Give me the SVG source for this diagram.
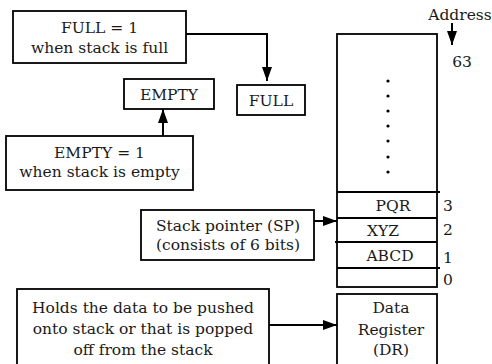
<svg xmlns="http://www.w3.org/2000/svg" width="492" height="364" viewBox="0 0 492 364">
  <defs>
    <marker id="arrow" viewBox="0 0 14 10" refX="14" refY="5" markerWidth="14" markerHeight="10" markerUnits="userSpaceOnUse" orient="auto">
      <path d="M0,0 L14,5 L0,10 Z" fill="#000"/>
    </marker>
    <style>
      .box { fill: #fff; stroke: #000; stroke-width: 1.8; }
      .line { fill: none; stroke: #000; stroke-width: 1.8; }
      .con { fill: none; stroke: #000; stroke-width: 2; marker-end: url(#arrow); }
      text { font-family: "DejaVu Serif", "Liberation Serif", serif; font-size: 15.5px; fill: #1a1a1a; }
      .c { text-anchor: middle; }
    </style>
  </defs>
  <rect width="492" height="364" fill="#fff"/>

  <!-- connectors -->
  <g id="connectors">
    <path class="con" d="M186,34 H267 V81"/>
    <path class="con" d="M163,136 V109"/>
    <path class="con" d="M452,23 V45"/>
    <path class="con" d="M314,221 H337"/>
    <path class="con" d="M269,325 H337"/>
  </g>

  <g id="full-note">
    <rect class="box" x="13" y="11" width="173" height="52"/>
    <text class="c" x="99.5" y="33">FULL = 1</text>
    <text class="c" x="99.5" y="53">when stack is full</text>
  </g>

  <g id="full-flag">
    <rect class="box" x="237" y="85" width="68" height="30"/>
    <text class="c" x="271" y="106">FULL</text>
  </g>

  <g id="empty-flag">
    <rect class="box" x="124" y="79" width="90" height="30"/>
    <text class="c" x="169" y="100">EMPTY</text>
  </g>

  <g id="empty-note">
    <rect class="box" x="6" y="136" width="187" height="54"/>
    <text class="c" x="99.5" y="158">EMPTY = 1</text>
    <text class="c" x="99.5" y="177">when stack is empty</text>
  </g>

  <g id="address">
    <text class="c" x="460" y="20">Address</text>
    <text class="c" x="462" y="67">63</text>
  </g>

  <g id="stack">
    <rect class="box" x="337" y="34" width="100" height="253"/>
    <g fill="#000">
      <circle cx="388" cy="81" r="1.6"/>
      <circle cx="388" cy="96" r="1.6"/>
      <circle cx="388" cy="111" r="1.6"/>
      <circle cx="388" cy="126" r="1.6"/>
      <circle cx="388" cy="141" r="1.6"/>
      <circle cx="388" cy="157" r="1.6"/>
      <circle cx="388" cy="172" r="1.6"/>
    </g>
    <path class="line" d="M337,192 H440 M337,218 H437 M335,242 H437 M337,268 H440"/>
    <text class="c" x="393" y="211">PQR</text>
    <text class="c" x="383" y="236">XYZ</text>
    <text class="c" x="390" y="261">ABCD</text>
    <text x="443" y="211">3</text>
    <text x="443" y="235">2</text>
    <text x="443" y="263">1</text>
    <text x="443" y="285">0</text>
  </g>

  <g id="stack-pointer">
    <rect class="box" x="141" y="210" width="173" height="50"/>
    <text class="c" x="228" y="231">Stack pointer (SP)</text>
    <text class="c" x="228" y="250">(consists of 6 bits)</text>
  </g>

  <g id="data-note">
    <rect class="box" x="17" y="289" width="252" height="80"/>
    <text class="c" x="143" y="313">Holds the data to be pushed</text>
    <text class="c" x="143" y="334">onto stack or that is popped</text>
    <text class="c" x="143" y="355">off from the stack</text>
  </g>

  <g id="data-register">
    <rect class="box" x="337" y="294" width="100" height="75"/>
    <text class="c" x="391" y="313">Data</text>
    <text class="c" x="391" y="335">Register</text>
    <text class="c" x="391" y="355">(DR)</text>
  </g>
</svg>
